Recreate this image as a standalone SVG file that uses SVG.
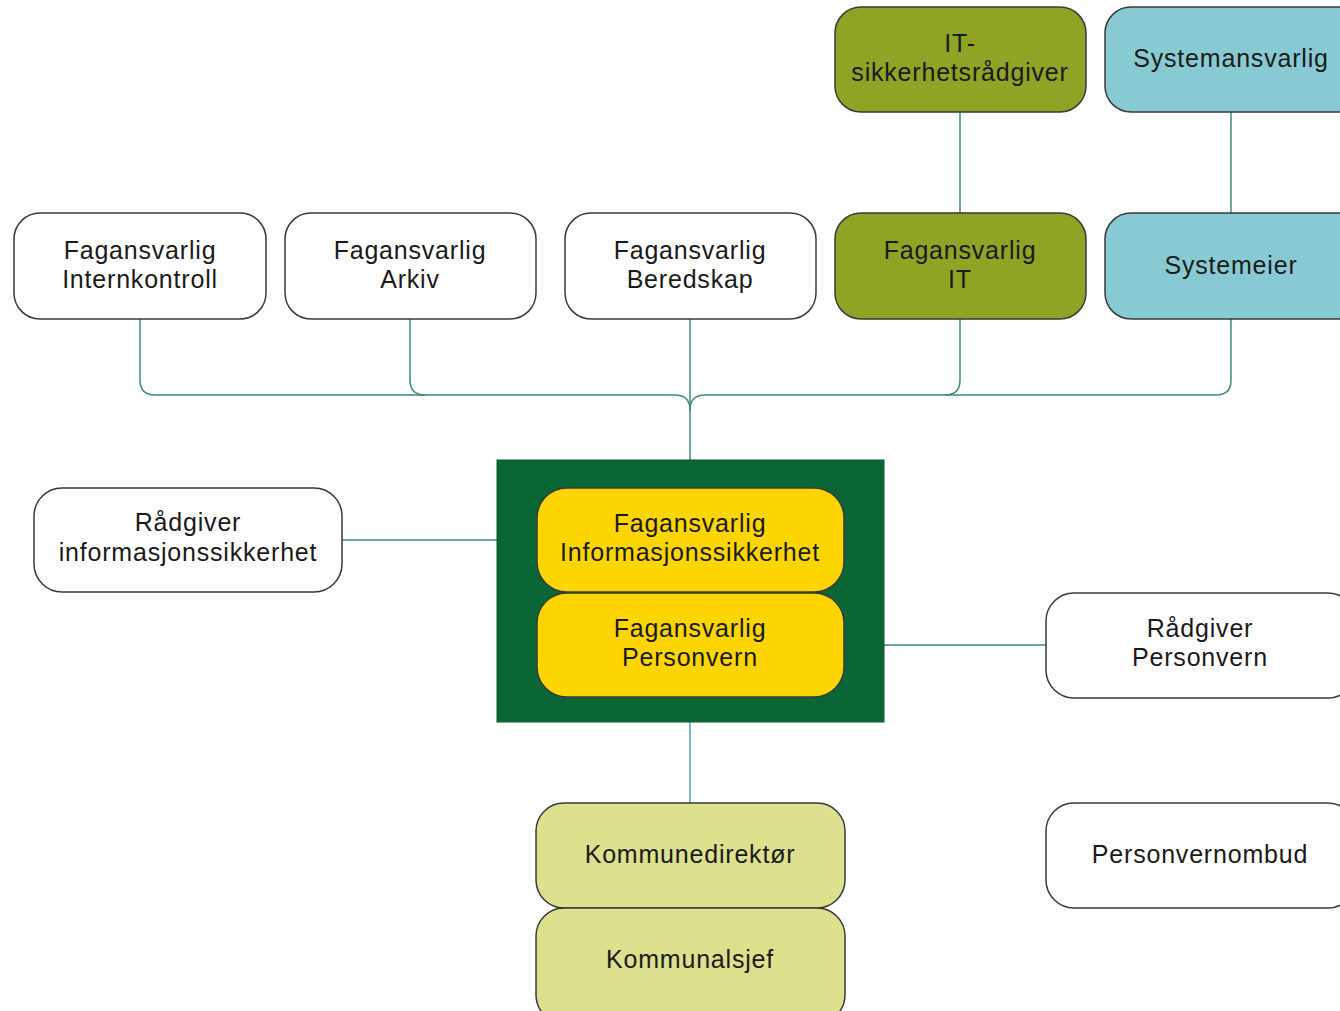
<svg xmlns="http://www.w3.org/2000/svg" width="1340" height="1011" viewBox="0 0 1340 1011">
<style>
.box{stroke:#3a3a3a;stroke-width:1.5}
.w{fill:#ffffff}
.olive{fill:#8fa324}
.cyan{fill:#87cad3}
.yel{fill:#fdd500}
.kh{fill:#dde08c}
.t{font-family:"Liberation Sans",Arial,sans-serif;font-size:25px;fill:#1a1a1a;text-anchor:middle;letter-spacing:0.8px}
.c{fill:none;stroke:#3f8a78;stroke-width:1.5}
</style>
<rect width="1340" height="1011" fill="#ffffff"/>
<g id="connectors">
<path class="c" d="M960 112 V213"/>
<path class="c" d="M1231 112 V213"/>
<path class="c" d="M140 319 V380 Q140 395 155 395 H675 Q690 395 690 410"/>
<path class="c" d="M1231 319 V380 Q1231 395 1216 395 H705 Q690 395 690 410"/>
<path class="c" d="M410 319 V380 Q410 395 425 395"/>
<path class="c" d="M960 319 V380 Q960 395 945 395"/>
<path class="c" d="M690 319 V460"/>
<path class="c" d="M342 540 H497"/>
<path class="c" d="M884 645 H1046"/>
<path class="c" style="stroke:#4aa5bd" d="M690 722 V803"/>
</g>
<g id="n-itsik"><rect class="box olive" x="835" y="7" width="251" height="105" rx="26"/><text class="t" x="960" y="52">IT-</text><text class="t" x="960" y="81">sikkerhetsrådgiver</text></g>
<g id="n-sysansv"><rect class="box cyan" x="1105" y="7" width="260" height="105" rx="26"/><text class="t" x="1231" y="67">Systemansvarlig</text></g>
<g id="n-intern"><rect class="box w" x="14" y="213" width="252" height="106" rx="26"/><text class="t" x="140" y="259">Fagansvarlig</text><text class="t" x="140" y="288">Internkontroll</text></g>
<g id="n-arkiv"><rect class="box w" x="285" y="213" width="251" height="106" rx="26"/><text class="t" x="410" y="259">Fagansvarlig</text><text class="t" x="410" y="288">Arkiv</text></g>
<g id="n-bered"><rect class="box w" x="565" y="213" width="251" height="106" rx="26"/><text class="t" x="690" y="259">Fagansvarlig</text><text class="t" x="690" y="288">Beredskap</text></g>
<g id="n-it"><rect class="box olive" x="835" y="213" width="251" height="106" rx="26"/><text class="t" x="960" y="259">Fagansvarlig</text><text class="t" x="960" y="288">IT</text></g>
<g id="n-syseier"><rect class="box cyan" x="1105" y="213" width="260" height="106" rx="26"/><text class="t" x="1231" y="274">Systemeier</text></g>
<g id="n-center"><rect x="497" y="460" width="387" height="262" fill="#0a6634" stroke="#0a5a2e" stroke-width="1"/></g>
<g id="n-infosik"><rect class="box yel" x="537" y="488" width="307" height="104" rx="30"/><text class="t" x="690" y="532">Fagansvarlig</text><text class="t" x="690" y="561">Informasjonssikkerhet</text></g>
<g id="n-personvern"><rect class="box yel" x="537" y="593" width="307" height="104" rx="30"/><text class="t" x="690" y="637">Fagansvarlig</text><text class="t" x="690" y="666">Personvern</text></g>
<g id="n-raadinfo"><rect class="box w" x="34" y="488" width="308" height="104" rx="28"/><text class="t" x="188" y="531">Rådgiver</text><text class="t" x="188" y="561">informasjonssikkerhet</text></g>
<g id="n-raadpers"><rect class="box w" x="1046" y="593" width="310" height="105" rx="28"/><text class="t" x="1200" y="637">Rådgiver</text><text class="t" x="1200" y="666">Personvern</text></g>
<g id="n-kdir"><rect class="box kh" x="536" y="803" width="309" height="105" rx="28"/><text class="t" x="690" y="863">Kommunedirektør</text></g>
<g id="n-ksjef"><rect class="box kh" x="536" y="908" width="309" height="115" rx="28"/><text class="t" x="690" y="968">Kommunalsjef</text></g>
<g id="n-pvo"><rect class="box w" x="1046" y="803" width="310" height="105" rx="28"/><text class="t" x="1200" y="863">Personvernombud</text></g>
</svg>
